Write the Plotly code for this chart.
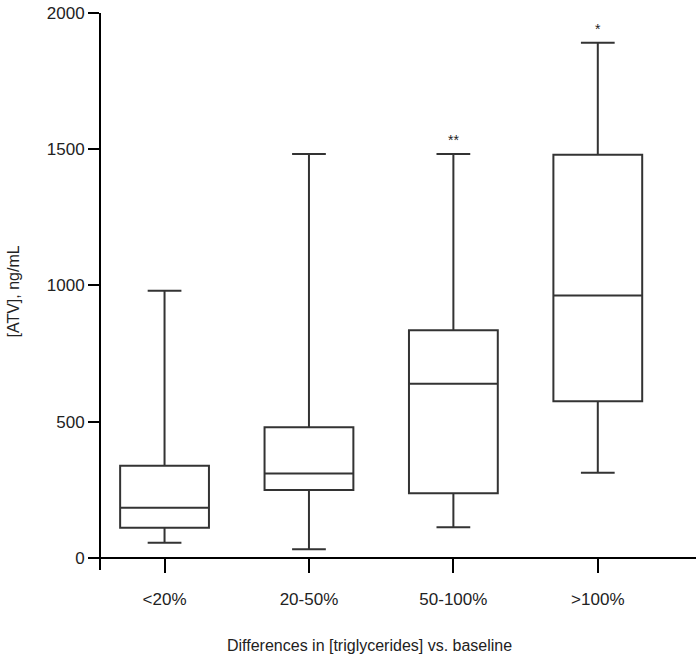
import plotly.graph_objects as go

categories = ["<20%", "20-50%", "50-100%", ">100%"]
lower = [55, 31, 112, 312]
q1 = [110, 249, 237, 575]
median = [184, 309, 639, 963]
q3 = [338, 479, 835, 1480]
upper = [980, 1482, 1482, 1891]
marks = ["", "", "**", "*"]
y_ticks = [0, 500, 1000, 1500, 2000]

FONT = "Liberation Sans, Arial, sans-serif"
LINE = "#333333"

fig = go.Figure()
fig.add_trace(go.Box(
    x=categories,
    q1=q1, median=median, q3=q3,
    lowerfence=lower, upperfence=upper,
    fillcolor="rgba(255,255,255,0)",
    line=dict(color=LINE, width=2),
    whiskerwidth=0.38,
    width=0.615,
    boxpoints=False,
    hoverinfo="skip",
    showlegend=False,
))

for c, u, m in zip(categories, upper, marks):
    if m:
        fig.add_annotation(x=c, y=u, text=m, showarrow=False, yanchor="bottom",
                           yshift=4, font=dict(family=FONT, size=14, color="#222"))

fig.add_annotation(x=(369 - 101) / 595, xref="paper", xanchor="center",
                   y=-75 / 557, yref="paper", yanchor="middle",
                   text="Differences in [triglycerides] vs. baseline",
                   showarrow=False, font=dict(family=FONT, size=16, color="#222"))

fig.add_annotation(x=(13 - 101) / 595, xref="paper", xanchor="center",
                   y=0.5, yref="paper", yanchor="middle",
                   text="[ATV], ng/mL", textangle=-90,
                   showarrow=False, font=dict(family=FONT, size=16, color="#222"))

fig.update_layout(
    width=700, height=658,
    margin=dict(l=101, r=4, t=13, b=88),
    paper_bgcolor="white", plot_bgcolor="white",
    font=dict(family=FONT, size=17, color="#222"),
    xaxis=dict(
        type="category",
        range=[-0.44, 3.68],
        anchor="free", position=45 / 2045,
        automargin=False,
        showline=True, linecolor="black", linewidth=2,
        ticks="outside", ticklen=14, tickwidth=2, tickcolor="black",
        showgrid=False, zeroline=False,
        tickfont=dict(family=FONT, size=17, color="#222"),
        ticklabelstandoff=12,
    ),
    yaxis=dict(
        range=[-45, 2000],
        tickvals=y_ticks,
        automargin=False,
        showline=True, linecolor="black", linewidth=2,
        ticks="outside", ticklen=11, tickwidth=2, tickcolor="black",
        showgrid=False, zeroline=False,
        tickfont=dict(family=FONT, size=17, color="#222"),
    ),
)

fig.write_html("out.html", config={"displayModeBar": False},
               post_script="document.body.style.margin='0';document.body.style.overflow='hidden';")
